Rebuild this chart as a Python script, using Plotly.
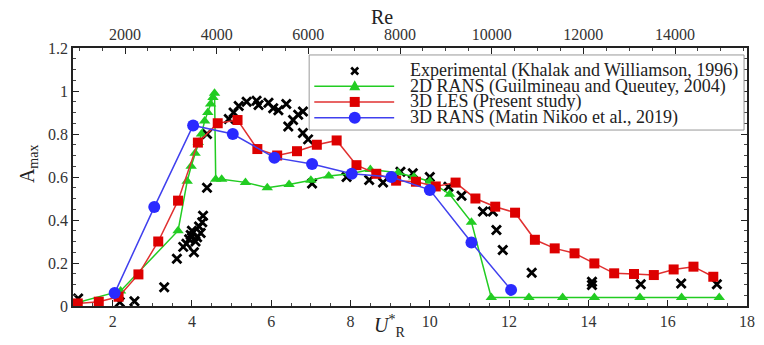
import plotly.graph_objects as go

# Experimental (Khalak and Williamson, 1996)
exp_u = [1.13, 2.18, 2.55, 3.3, 3.62, 3.78, 3.86, 3.93, 3.97, 4.0, 4.05, 4.09, 4.13, 4.18, 4.22,
         4.26, 4.28, 4.38, 4.38, 4.93, 5.05, 5.18, 5.38, 5.63, 5.68, 5.93, 6.05, 6.18, 6.38, 6.43,
         6.55, 6.68, 6.8, 6.8, 6.93, 7.03, 7.9, 8.47, 8.82, 9.26, 9.57, 10.0, 10.47, 10.8, 11.34,
         11.59, 11.68, 11.84, 12.57, 14.09, 14.09, 15.32, 16.34, 17.24]
exp_a = [0.035, 0.018, 0.022, 0.087, 0.22, 0.275, 0.29, 0.31, 0.33, 0.35, 0.25, 0.30, 0.32, 0.37, 0.34,
         0.39, 0.42, 0.55, 0.80, 0.87, 0.90, 0.93, 0.95, 0.955, 0.935, 0.945, 0.92, 0.91, 0.94, 0.835,
         0.865, 0.89, 0.905, 0.805, 0.775, 0.57, 0.60, 0.586, 0.574, 0.624, 0.617, 0.60, 0.555, 0.513, 0.44,
         0.44, 0.353, 0.26, 0.155, 0.113, 0.098, 0.101, 0.105, 0.101]

# 2D RANS (Guilmineau and Queutey, 2004)
rans2d_u = [1.0, 2.2, 3.65, 3.88, 3.98, 4.08, 4.16, 4.24, 4.32, 4.4, 4.47, 4.53, 4.57, 4.6, 4.75,
            5.35, 5.9, 6.45, 7.0, 7.45, 8.0, 8.5, 9.2, 9.6, 10.0, 10.5, 11.05, 11.55, 12.5, 13.35,
            14.15, 15.3, 16.35, 17.3]
rans2d_a = [0.01, 0.07, 0.35, 0.58, 0.65, 0.71, 0.76, 0.80, 0.86, 0.90, 0.94, 0.97, 0.99, 0.59, 0.59,
            0.575, 0.55, 0.565, 0.585, 0.605, 0.615, 0.635, 0.62, 0.60, 0.58, 0.52, 0.39, 0.04, 0.04, 0.04,
            0.04, 0.04, 0.04, 0.04]

# 3D LES (Present study)
les_u = [1.12, 1.65, 2.15, 2.65, 3.15, 3.65, 4.15, 4.65, 5.15, 5.65, 6.15, 6.65, 7.15, 7.65, 8.15,
         8.65, 9.15, 9.65, 10.15, 10.65, 11.15, 11.65, 12.15, 12.65, 13.15, 13.65, 14.15, 14.65,
         15.15, 15.65, 16.15, 16.65, 17.15]
les_a = [0.012, 0.02, 0.043, 0.147, 0.30, 0.49, 0.76, 0.85, 0.865, 0.73, 0.70, 0.72, 0.75, 0.77, 0.655,
         0.615, 0.583, 0.578, 0.556, 0.574, 0.50, 0.462, 0.434, 0.308, 0.268, 0.245, 0.198, 0.152,
         0.149, 0.144, 0.17, 0.183, 0.136]

# 3D RANS (Matin Nikoo et al., 2019)
rans3d_u = [2.05, 3.05, 4.03, 5.03, 6.08, 7.03, 8.03, 9.03, 10.0, 11.05, 12.05]
rans3d_a = [0.06, 0.46, 0.84, 0.80, 0.69, 0.66, 0.615, 0.60, 0.54, 0.295, 0.075]

series_names = ["Experimental (Khalak and Williamson, 1996)",
                "2D RANS (Guilmineau and Queutey, 2004)",
                "3D LES (Present study)",
                "3D RANS (Matin Nikoo et al., 2019)"]

re_per_u = 865.0
u_range = [1, 18]

FONT = "Liberation Serif, Times New Roman, Times, serif"
TICKC = "#333333"
C_EXP, C_2D, C_LES, C_3D = "black", "#22cc22", "#dd0000", "#2a2aff"
L_2D, L_LES, L_3D = "#22cc22", "#e03030", "#4040ee"

fig = go.Figure()
fig.add_trace(go.Scatter(
    x=exp_u, y=exp_a, mode="markers", name=series_names[0], showlegend=False,
    marker=dict(symbol="x-thin-open", size=9, color=C_EXP, line=dict(width=2.8, color=C_EXP))))
fig.add_trace(go.Scatter(
    x=rans2d_u, y=rans2d_a, mode="lines+markers", name=series_names[1], showlegend=False,
    line=dict(color=L_2D, width=1.5),
    marker=dict(symbol="triangle-up", size=10, color=C_2D)))
fig.add_trace(go.Scatter(
    x=les_u, y=les_a, mode="lines+markers", name=series_names[2], showlegend=False,
    line=dict(color=L_LES, width=1.5),
    marker=dict(symbol="square", size=10, color=C_LES)))
fig.add_trace(go.Scatter(
    x=rans3d_u, y=rans3d_a, mode="lines+markers", name=series_names[3], showlegend=False,
    line=dict(color=L_3D, width=1.5),
    marker=dict(symbol="circle", size=12, color=C_3D)))
# invisible trace to activate the top Re axis
fig.add_trace(go.Scatter(x=[u_range[0] * re_per_u, u_range[1] * re_per_u], y=[0, 0],
                         xaxis="x2", mode="markers", marker=dict(opacity=0),
                         showlegend=False, hoverinfo="skip"))

# ---- legend box drawn as paper-referenced decoration (compact, like the original) ----
LX0, LX1, LY0, LY1 = 0.3504, 0.9956, 0.682, 0.973
row_y = [0.911, 0.852, 0.791, 0.730]
line_x0, line_x1, mark_x, text_x = 0.358, 0.4765, 0.418, 0.4985

shapes = [dict(type="rect", xref="paper", yref="paper", x0=LX0, x1=LX1, y0=LY0, y1=LY1,
               fillcolor="white", line=dict(color="#999999", width=1), layer="above")]
for ry, col in zip(row_y[1:], [L_2D, L_LES, L_3D]):
    shapes.append(dict(type="line", xref="paper", yref="paper", x0=line_x0, x1=line_x1, y0=ry, y1=ry,
                       line=dict(color=col, width=1.5), layer="above"))
# experimental "x"
for a, b in [(-3.5, 3.5), (3.5, -3.5)]:
    shapes.append(dict(type="line", xref="paper", yref="paper", xsizemode="pixel", ysizemode="pixel",
                       xanchor=mark_x, yanchor=row_y[0], x0=-3.5, x1=3.5, y0=a, y1=b,
                       line=dict(color=C_EXP, width=2.6), layer="above"))
# triangle
shapes.append(dict(type="path", xref="paper", yref="paper", xsizemode="pixel", ysizemode="pixel",
                   xanchor=mark_x, yanchor=row_y[1], path="M-5.5,-4 L5.5,-4 L0,6 Z",
                   fillcolor=C_2D, line=dict(color=C_2D, width=0), layer="above"))
# square
shapes.append(dict(type="rect", xref="paper", yref="paper", xsizemode="pixel", ysizemode="pixel",
                   xanchor=mark_x, yanchor=row_y[2], x0=-5, x1=5, y0=-5, y1=5,
                   fillcolor=C_LES, line=dict(color=C_LES, width=0), layer="above"))
# circle
shapes.append(dict(type="circle", xref="paper", yref="paper", xsizemode="pixel", ysizemode="pixel",
                   xanchor=mark_x, yanchor=row_y[3], x0=-6, x1=6, y0=-6, y1=6,
                   fillcolor=C_3D, line=dict(color=C_3D, width=0), layer="above"))

annotations = [
    dict(text="Re", xref="paper", yref="paper", x=0.459, y=1.0, yanchor="middle", yshift=31,
         showarrow=False, font=dict(family=FONT, size=20, color="#222")),
    dict(text="<i>U</i><sup>*</sup><sub>R</sub>", xref="paper", yref="paper", x=0.469, y=0,
         yanchor="middle", yshift=-20, showarrow=False, font=dict(family=FONT, size=20, color="#222")),
    dict(text="A<sub>max</sub>", xref="paper", yref="paper", x=0, xanchor="center", xshift=-45, y=0.55,
         textangle=-90, showarrow=False, font=dict(family=FONT, size=20, color="#222")),
]
for name, ry in zip(series_names, row_y):
    annotations.append(dict(text=name, xref="paper", yref="paper", x=text_x, y=ry,
                            xanchor="left", yanchor="middle", showarrow=False, borderpad=0,
                            font=dict(family=FONT, size=18, color="#222")))

fig.update_layout(
    width=764, height=345,
    margin=dict(l=73, r=9, t=48, b=39),
    plot_bgcolor="white", paper_bgcolor="white",
    font=dict(family=FONT, size=16, color=TICKC),
    showlegend=False,
    xaxis=dict(range=u_range, tickmode="linear", tick0=0, dtick=2, ticks="inside", ticklen=6,
               showgrid=False, zeroline=False, showline=True, linecolor="#222", linewidth=1.5,
               tickcolor="#222", mirror=False,
               minor=dict(dtick=0.5, ticks="inside", ticklen=3, tickcolor="#444")),
    xaxis2=dict(overlaying="x", side="top", range=[u_range[0] * re_per_u, u_range[1] * re_per_u],
                tickmode="linear", tick0=0, dtick=2000, tickformat="d", ticks="inside", ticklen=6,
                showgrid=False, zeroline=False, showline=True, linecolor="#222", linewidth=1.5,
                tickcolor="#222",
                minor=dict(dtick=500, ticks="inside", ticklen=3, tickcolor="#444")),
    yaxis=dict(range=[0, 1.2], tickmode="linear", tick0=0, dtick=0.2, ticks="inside", ticklen=6,
               showgrid=False, zeroline=False, showline=True, linecolor="#222", linewidth=1.5,
               tickcolor="#222", mirror="ticks",
               minor=dict(dtick=0.05, ticks="inside", ticklen=3, tickcolor="#444")),
    shapes=shapes,
    annotations=annotations,
)

fig.write_html("out.html")
